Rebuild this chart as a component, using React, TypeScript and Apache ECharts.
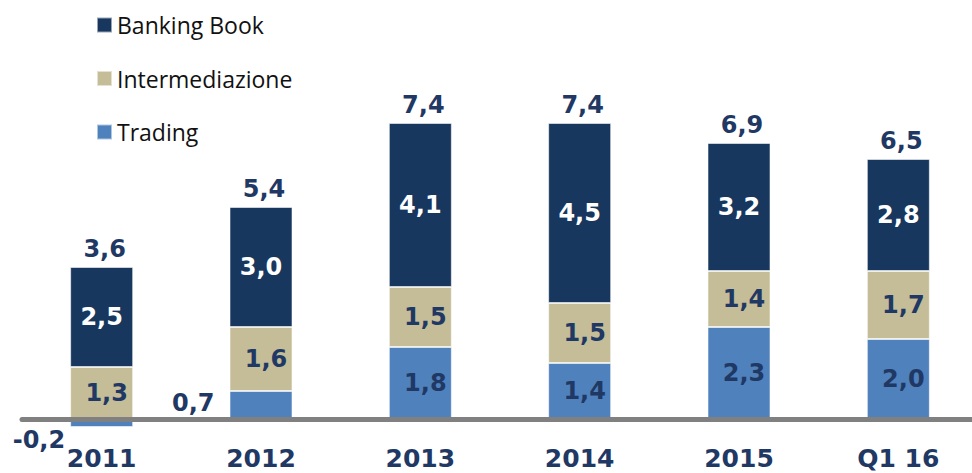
import React, { useEffect, useRef } from "react";
import * as echarts from "echarts";

const categories = ["2011", "2012", "2013", "2014", "2015", "Q1 16"];
const trading = [-0.2, 0.7, 1.8, 1.4, 2.3, 2.0];
const intermediazione = [1.3, 1.6, 1.5, 1.5, 1.4, 1.7];
const bankingBook = [2.5, 3.0, 4.1, 4.5, 3.2, 2.8];
const totals = [3.6, 5.4, 7.4, 7.4, 6.9, 6.5];

const NAVY = "#17375E";
const TAN = "#C4BD97";
const BLUE = "#4F81BD";
const TEXT = "#1F3864";
const fmt = (v: number) => v.toFixed(1).replace(".", ",");
const LABEL_FONT = { fontFamily: "DejaVu Sans", fontWeight: "bold" as const, fontSize: 24 };

export default function App() {
  const ref = useRef<HTMLDivElement>(null);
  useEffect(() => {
    if (!ref.current) return;
    const chart = echarts.init(ref.current, null, { renderer: "svg" });
    const border = { borderColor: "rgba(255,255,255,0.55)", borderWidth: 1 };
    chart.setOption({
      animation: false,
      backgroundColor: "#ffffff",
      legend: {
        data: ["Banking Book", "Intermediazione", "Trading"],
        orient: "vertical",
        left: 96,
        top: 12,
        padding: 0,
        itemWidth: 15,
        itemHeight: 15,
        itemGap: 27.5,
        icon: "rect",
        textStyle: { fontFamily: "Open Sans", fontSize: 23, color: "#111", lineHeight: 26 },
      },
      grid: { left: 22, width: 956, top: 19, height: 440, outerBoundsMode: "none", containLabel: false },
      xAxis: {
        type: "category",
        data: categories,
        z: 10,
        axisLine: { onZero: true, lineStyle: { color: "#808080", width: 5 } },
        axisTick: { show: false },
        axisLabel: { margin: -14, color: TEXT, ...LABEL_FONT, fontSize: 25, lineHeight: 26 },
      },
      yAxis: { type: "value", min: -1, max: 10, show: false, splitLine: { show: false } },
      series: [
        {
          name: "Trading",
          type: "bar",
          stack: "s",
          barWidth: 63,
          itemStyle: { color: BLUE, ...border },
          label: { show: true, position: "inside", offset: [5, 0], color: TEXT, ...LABEL_FONT, formatter: (p: any) => fmt(p.value) },
          data: trading.map((v, i) => {
            if (i === 0) return { value: v, label: { position: "left", offset: [0, 17], distance: 5 } };
            if (i === 1) return { value: v, label: { position: "left", offset: [0, -2], distance: 15 } };
            return v;
          }),
        },
        {
          name: "Intermediazione",
          type: "bar",
          stack: "s",
          barWidth: 63,
          itemStyle: { color: TAN, ...border },
          label: { show: true, position: "inside", offset: [5, 0], color: TEXT, ...LABEL_FONT, formatter: (p: any) => fmt(p.value) },
          data: intermediazione,
        },
        {
          name: "Banking Book",
          type: "bar",
          stack: "s",
          barWidth: 63,
          itemStyle: { color: NAVY, ...border },
          label: { show: true, position: "inside", color: "#ffffff", ...LABEL_FONT, formatter: (p: any) => fmt(p.value) },
          data: bankingBook,
        },
        {
          name: "Totale",
          type: "bar",
          stack: "s",
          barWidth: 63,
          itemStyle: { color: "transparent" },
          label: {
            show: true,
            position: "top",
            distance: 6,
            offset: [3, 0],
            color: TEXT,
            ...LABEL_FONT,
            formatter: (p: any) => fmt(totals[p.dataIndex]),
          },
          data: totals.map(() => 0),
        },
      ],
    });
    return () => chart.dispose();
  }, []);
  return <div ref={ref} style={{ position: "absolute", left: 0, top: 0, width: 972, height: 473 }} />;
}
